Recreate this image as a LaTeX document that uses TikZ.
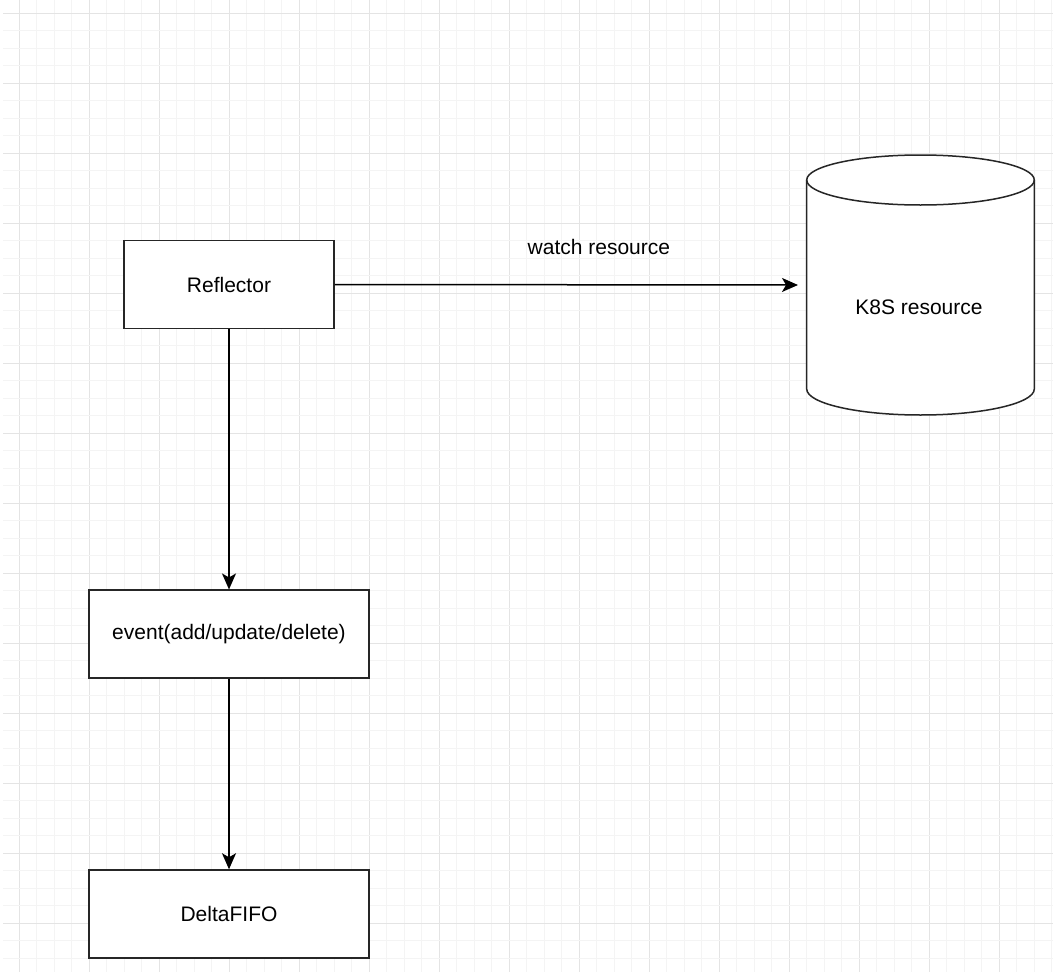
\documentclass[tikz,border=0pt]{standalone}
\usepackage{fontspec}
\setmainfont{Liberation Sans}
\usetikzlibrary{arrows.meta}
\definecolor{gridmajor}{HTML}{E4E4E4}
\definecolor{gridminor}{HTML}{F4F4F4}
\tikzset{
  box/.style={draw=black!85, line width=1.5pt, fill=white, minimum width=#1, minimum height=88pt, inner sep=0pt, font=\fontsize{21}{25}\selectfont},
  conn/.style={line width=1.5pt, draw=black, -{Stealth[length=16pt,width=14pt,inset=4pt]}},
  lbl/.style={font=\fontsize{21}{25}\selectfont, inner sep=0pt}
}
\begin{document}
\begin{tikzpicture}[x=1pt,y=-1pt]
\useasboundingbox (0,0) rectangle (1053,972);
\fill[white] (0,0) rectangle (1053,972);
% grid
\foreach \i in {0,...,59} {
  \pgfmathsetmacro{\gx}{19.3+17.5*\i}
  \pgfmathtruncatemacro{\m}{mod(\i,4)}
  \ifnum\m=0
    \draw[gridmajor, line width=0.9pt] (\gx,0) -- (\gx,972);
  \else
    \draw[gridminor, line width=0.9pt] (\gx,0) -- (\gx,972);
  \fi
}
\foreach \i in {0,...,55} {
  \pgfmathsetmacro{\gy}{13.3+17.5*\i}
  \pgfmathtruncatemacro{\m}{mod(\i,4)}
  \ifnum\m=0
    \draw[gridmajor, line width=0.9pt] (3,\gy) -- (1053,\gy);
  \else
    \draw[gridminor, line width=0.9pt] (3,\gy) -- (1053,\gy);
  \fi
}
% nodes
\node[box=210pt] (refl) at (229,284.5) {Reflector};
\node[box=280pt] (event) at (229,634.2) {event(add/update/delete)};
\node[box=280pt] (fifo) at (229,914) {DeltaFIFO};
% cylinder
\draw[draw=black!85, line width=1.5pt, fill=white]
  (806.7,180) -- (806.7,389)
  arc[start angle=180, end angle=360, x radius=113.8, y radius=-26]
  -- (1034.3,180)
  arc[start angle=0, end angle=180, x radius=113.8, y radius=-25];
\draw[draw=black!85, line width=1.5pt]
  (806.7,180) arc[start angle=180, end angle=360, x radius=113.8, y radius=-25];
\node[inner sep=0pt, minimum width=227.6pt, minimum height=260pt] (cyl) at (920.5,285) {};
\node[lbl] (cyltext) at (919,307) {K8S resource};
% connectors
\draw[conn, shorten >=8.5pt] (refl.east) -- (cyl.west)
  node[lbl, pos=0.56, above=29pt] (watch) {watch resource};
\draw[conn] (refl.south) -- (event.north);
\draw[conn] (event.south) -- (fifo.north);
\end{tikzpicture}
\end{document}
